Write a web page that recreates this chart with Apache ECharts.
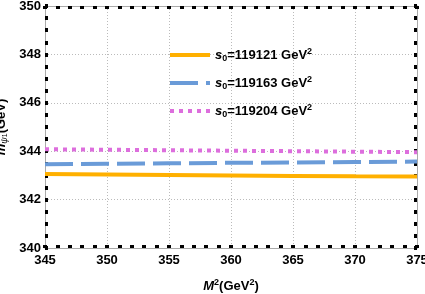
<!DOCTYPE html>
<html><head><meta charset="utf-8">
<script src="https://cdn.jsdelivr.net/npm/echarts@6/dist/echarts.min.js"></script>
<style>html,body{margin:0;padding:0;background:#fff}#c{width:425px;height:294px}</style>
</head><body><div id="c"></div>
<script>
const xValues = [345, 350, 355, 360, 365, 370, 375];
const s0Labels = ['119121', '119163', '119204'];
const orangeVals = [343.06, 343.04, 343.02, 343.00, 342.98, 342.96, 342.95];
const blueVals = [343.46, 343.48, 343.50, 343.52, 343.53, 343.55, 343.57];
const pinkVals = [344.08, 344.06, 344.04, 344.02, 344.00, 343.98, 343.96];

const font = '"Liberation Sans", Arial, sans-serif';
const chart = echarts.init(document.getElementById('c'));
const pair = v => xValues.map((x, i) => [x, v[i]]);
const tickStyle = {show: true, inside: true, length: 3, lineStyle: {color: '#000', width: 4}};
const minorX = {show: true, splitNumber: 5, length: 3, lineStyle: {color: '#000', width: 4}};
const minorY = {show: true, splitNumber: 4, length: 3, lineStyle: {color: '#000', width: 4}};
const axisLine = {show: true, onZero: false, lineStyle: {color: '#aaa', width: 1}};
const split = {show: true, lineStyle: {color: '#bbb', type: [1, 2], width: 1}};
const richLegend = {
  i: {fontStyle: 'italic', fontWeight: 'bold', fontSize: 13, fontFamily: font, color: '#000'},
  sub: {fontWeight: 'bold', fontSize: 9, fontFamily: font, color: '#000', verticalAlign: 'bottom', padding: [6, 0, 0, 0]},
  n: {fontWeight: 'bold', fontSize: 13, fontFamily: font, color: '#000'},
  sup: {fontWeight: 'bold', fontSize: 9, fontFamily: font, color: '#000', verticalAlign: 'top', padding: [0, 0, 7, 0]}
};
const names = s0Labels.map(s => 's0=' + s);
chart.setOption({
  animation: false,
  grid: {left: 45, right: 8, top: 6, bottom: 46, containLabel: false, outerBoundsMode: 'none'},
  legend: {
    left: 163, top: 42, orient: 'vertical', itemWidth: 40, itemHeight: 10, itemGap: 12,
    data: names,
    itemStyle: {opacity: 0},
    lineStyle: {width: 4},
    formatter: n => '{i|s}{sub|0}{n|=' + n.slice(3) + ' GeV}{sup|2}',
    textStyle: {rich: richLegend}
  },
  xAxis: [{
    type: 'value', min: 345, max: 375, interval: 5,
    axisLine: axisLine, axisTick: tickStyle, minorTick: minorX, splitLine: split,
    axisLabel: {color: '#000', fontWeight: 'bold', fontSize: 13, fontFamily: font, margin: 6},
    name: '{i|M}{sup|2}{n|(GeV}{sup|2}{n|)}', nameLocation: 'middle', nameGap: 30,
    nameTextStyle: {rich: {
      i: {fontStyle: 'italic', fontWeight: 'bold', fontSize: 13, fontFamily: font, color: '#000'},
      n: {fontWeight: 'bold', fontSize: 13, fontFamily: font, color: '#000'},
      sup: {fontWeight: 'bold', fontSize: 9, fontFamily: font, color: '#000', verticalAlign: 'top', padding: [0, 0, 8, 0]}
    }}
  }, {
    type: 'value', position: 'top', min: 345, max: 375, interval: 5,
    axisLine: axisLine, axisTick: tickStyle, minorTick: minorX, splitLine: {show: false}, axisLabel: {show: false}
  }],
  yAxis: [{
    type: 'value', min: 340, max: 350, interval: 2,
    axisLine: axisLine, axisTick: tickStyle, minorTick: minorY, splitLine: split,
    axisLabel: {color: '#000', fontWeight: 'bold', fontSize: 13, fontFamily: font, margin: 4, align: 'right'},
    name: '{i|m}{sub|ψ}{sub2|1}{n|(GeV)}', nameLocation: 'middle', nameGap: 36, nameRotate: 90,
    nameMoveOverlap: false,
    nameTextStyle: {rich: {
      i: {fontStyle: 'italic', fontWeight: 'bold', fontSize: 13, fontFamily: font, color: '#000'},
      sub: {fontStyle: 'italic', fontSize: 9, fontFamily: font, color: '#000', verticalAlign: 'bottom', padding: [6, 0, 0, 0]},
      sub2: {fontSize: 7, fontFamily: font, color: '#000', verticalAlign: 'bottom', padding: [9, 0, 0, 0]},
      n: {fontWeight: 'bold', fontSize: 13, fontFamily: font, color: '#000'}
    }}
  }, {
    type: 'value', position: 'right', min: 340, max: 350, interval: 2,
    axisLine: axisLine, axisTick: tickStyle, minorTick: minorY, splitLine: {show: false}, axisLabel: {show: false}
  }],
  series: [
    {name: names[0], type: 'line', data: pair(orangeVals), showSymbol: false, symbol: 'none',
     lineStyle: {color: '#FFB000', width: 4}, itemStyle: {color: '#FFB000'}},
    {name: names[1], type: 'line', data: pair(blueVals), showSymbol: false, symbol: 'none',
     lineStyle: {color: '#6A9BD8', width: 4, type: [28, 8]}, itemStyle: {color: '#6A9BD8'}},
    {name: names[2], type: 'line', data: pair(pinkVals), showSymbol: false, symbol: 'none',
     lineStyle: {color: '#DD6EDD', width: 4, type: [4, 5]}, itemStyle: {color: '#DD6EDD'}}
  ]
});
</script></body></html>
